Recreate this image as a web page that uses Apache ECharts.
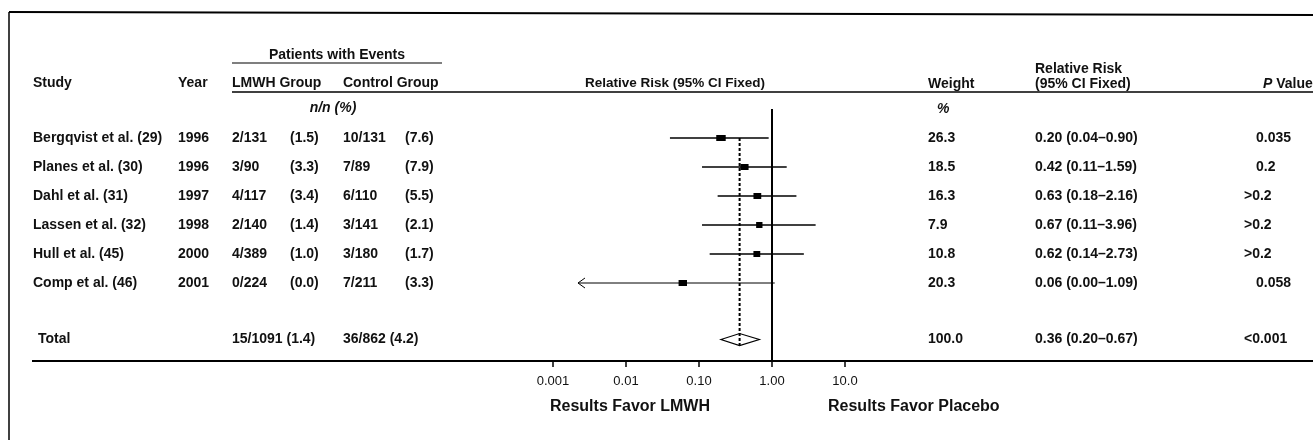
<!DOCTYPE html>
<html>
<head>
<meta charset="utf-8">
<script src="https://cdn.jsdelivr.net/npm/echarts@6/dist/echarts.min.js"></script>
<style>html,body{margin:0;padding:0;background:#fff}#c{width:1313px;height:440px}</style>
</head>
<body>
<div id="c"></div>
<script>
// ---------- DATA ----------
const studies = ['Bergqvist et al. (29)', 'Planes et al. (30)', 'Dahl et al. (31)', 'Lassen et al. (32)', 'Hull et al. (45)', 'Comp et al. (46)'];
const years = ['1996', '1996', '1997', '1998', '2000', '2001'];
const lmwhEvents = ['2/131', '3/90', '4/117', '2/140', '4/389', '0/224'];
const lmwhPct = ['(1.5)', '(3.3)', '(3.4)', '(1.4)', '(1.0)', '(0.0)'];
const controlEvents = ['10/131', '7/89', '6/110', '3/141', '3/180', '7/211'];
const controlPct = ['(7.6)', '(7.9)', '(5.5)', '(2.1)', '(1.7)', '(3.3)'];
const weights = [26.3, 18.5, 16.3, 7.9, 10.8, 20.3];
const rr = [0.20, 0.42, 0.63, 0.67, 0.62, 0.06];
const ciLow = [0.04, 0.11, 0.18, 0.11, 0.14, 0.00];
const ciHigh = [0.90, 1.59, 2.16, 3.96, 2.73, 1.09];
const pValues = ['0.035', '0.2', '>0.2', '>0.2', '>0.2', '0.058'];

const totalLabel = 'Total';
const totalLmwh = '15/1091 (1.4)';
const totalControl = '36/862 (4.2)';
const totalWeight = 100.0;
const totalRR = 0.36;
const totalLow = 0.20;
const totalHigh = 0.67;
const totalP = '<0.001';

const tickValues = [0.001, 0.01, 0.1, 1, 10];
const tickLabels = ['0.001', '0.01', '0.10', '1.00', '10.0'];

// ---------- LAYOUT ----------
const FONT = '"Liberation Sans", Arial, sans-serif';
const ROW_H = 29;
const GRID = { left: 553, width: 292, top: 109, height: 252 };
const Y_MIN = -1;
const Y_MAX = Y_MIN + GRID.height / ROW_H;
const ROW_TOTAL = 6.95;
const ARROW_MIN = 0.0022; // display clamp for a zero lower bound (drawn as arrow)
const COL = { study: 33, total: 38, year: 178, lmwhN: 232, lmwhPct: 290, ctrlN: 343, ctrlPct: 405, weight: 928, rr: 1035, p: 1256, pSym: 1244 };

const rrStr = (v, l, h) => v.toFixed(2) + ' (' + l.toFixed(2) + '\u2013' + h.toFixed(2) + ')';

function textEl(x, y, text, extra) {
  return {
    type: 'text', x: x, y: y, silent: true,
    style: Object.assign({
      text: text, fill: '#111', fontFamily: FONT, fontSize: 14, fontWeight: 'bold',
      textAlign: 'left', textVerticalAlign: 'middle', align: 'left', verticalAlign: 'middle'
    }, extra || {})
  };
}
function lineEl(x1, y1, x2, y2, w, dash) {
  return { type: 'line', silent: true, shape: { x1: x1, y1: y1, x2: x2, y2: y2 },
    style: { stroke: '#000', lineWidth: w, lineDash: dash || null } };
}
function pX(s) { return /^[<>]/.test(s) ? COL.pSym : COL.p; }

const chart = echarts.init(document.getElementById('c'), null, { renderer: 'canvas' });

const italicRich = { i: { fontStyle: 'italic', fontWeight: 'bold', fontSize: 14, fontFamily: FONT, fill: '#111' } };

const graphics = [
  lineEl(9, 12, 1313, 15, 2),
  lineEl(9, 12, 9, 440, 1.5),
  lineEl(232, 63, 442, 63, 1.2),
  lineEl(232, 92, 1313, 92, 1.5),
  lineEl(32, 361, 1313, 361, 2),
  textEl(337, 55, 'Patients with Events', { textAlign: 'center', align: 'center' }),
  textEl(COL.study, 83, 'Study'),
  textEl(COL.year, 83, 'Year'),
  textEl(COL.lmwhN, 83, 'LMWH Group'),
  textEl(COL.ctrlN, 83, 'Control Group'),
  textEl(675, 83, 'Relative Risk (95% CI Fixed)', { textAlign: 'center', align: 'center', fontSize: 13.5 }),
  textEl(COL.weight, 84, 'Weight'),
  textEl(COL.rr, 69, 'Relative Risk'),
  textEl(COL.rr, 84, '(95% CI Fixed)'),
  textEl(1263, 84, '{i|P} Value', { rich: italicRich }),
  textEl(333, 108, '{i|n/n (%)}', { textAlign: 'center', align: 'center', rich: italicRich }),
  textEl(937, 109, '{i|%}', { rich: italicRich }),
  textEl(630, 407, 'Results Favor LMWH', { textAlign: 'center', align: 'center', fontSize: 16 }),
  textEl(828, 407, 'Results Favor Placebo', { fontSize: 16 })
];

const option = {
  animation: false,
  backgroundColor: '#fff',
  grid: { left: GRID.left, width: GRID.width, top: GRID.top, height: GRID.height, containLabel: false },
  xAxis: {
    type: 'log', logBase: 10, min: tickValues[0], max: tickValues[tickValues.length - 1],
    position: 'bottom',
    axisLine: { show: true, onZero: false, lineStyle: { color: '#000', width: 2 } },
    axisTick: { show: true, inside: false, length: 6, lineStyle: { color: '#000', width: 1.5 } },
    minorTick: { show: false },
    splitLine: { show: false },
    axisLabel: {
      margin: 14, color: '#111', fontFamily: FONT, fontSize: 13,
      formatter: function (v) {
        for (let k = 0; k < tickValues.length; k++) {
          if (Math.abs(Math.log10(v) - Math.log10(tickValues[k])) < 1e-6) return tickLabels[k];
        }
        return '';
      }
    }
  },
  yAxis: { type: 'value', inverse: true, min: Y_MIN, max: Y_MAX, show: false, axisLine: { onZero: false } },
  graphic: { elements: graphics },
  series: [
    // table rows (text columns aligned to the row scale)
    {
      type: 'custom', clip: false, silent: true,
      data: studies.map(function (s, i) { return [1, i]; }),
      encode: { x: 0, y: 1 },
      renderItem: function (params, api) {
        const i = params.dataIndex;
        const y = api.coord([1, api.value(1)])[1];
        return {
          type: 'group',
          children: [
            textEl(COL.study, y, studies[i]),
            textEl(COL.year, y, years[i]),
            textEl(COL.lmwhN, y, lmwhEvents[i]),
            textEl(COL.lmwhPct, y, lmwhPct[i]),
            textEl(COL.ctrlN, y, controlEvents[i]),
            textEl(COL.ctrlPct, y, controlPct[i]),
            textEl(COL.weight, y, weights[i].toFixed(1)),
            textEl(COL.rr, y, rrStr(rr[i], ciLow[i], ciHigh[i])),
            textEl(pX(pValues[i]), y, pValues[i])
          ]
        };
      }
    },
    // total row text
    {
      type: 'custom', clip: false, silent: true,
      data: [[1, ROW_TOTAL]],
      encode: { x: 0, y: 1 },
      renderItem: function (params, api) {
        const y = api.coord([1, api.value(1)])[1];
        return {
          type: 'group',
          children: [
            textEl(COL.total, y, totalLabel),
            textEl(COL.lmwhN, y, totalLmwh),
            textEl(COL.ctrlN, y, totalControl),
            textEl(COL.weight, y, totalWeight.toFixed(1)),
            textEl(COL.rr, y, rrStr(totalRR, totalLow, totalHigh)),
            textEl(pX(totalP), y, totalP)
          ]
        };
      }
    },
    // study estimates with CIs
    {
      type: 'custom', clip: false, silent: true,
      data: rr.map(function (v, i) { return [v, i, ciLow[i], ciHigh[i], weights[i]]; }),
      encode: { x: 0, y: 1 },
      renderItem: function (params, api) {
        const r = api.value(1);
        const lo = api.value(2), hi = api.value(3), w = api.value(4);
        const loShown = lo > 0 ? lo : ARROW_MIN;
        const pc = api.coord([api.value(0), r]);
        const pl = api.coord([loShown, r]);
        const ph = api.coord([hi, r]);
        const bw = 5 + w * 0.17, bh = 6;
        const children = [
          { type: 'line', shape: { x1: pl[0], y1: pl[1], x2: ph[0], y2: ph[1] },
            style: { stroke: '#000', lineWidth: lo > 0 ? 1.5 : 1 } }
        ];
        if (!(lo > 0)) {
          children.push({ type: 'polyline', shape: { points: [[pl[0] + 7, pl[1] - 5], [pl[0], pl[1]], [pl[0] + 7, pl[1] + 5]] },
            style: { stroke: '#000', lineWidth: 1, fill: null } });
        }
        children.push({ type: 'rect', shape: { x: pc[0] - bw / 2, y: pc[1] - bh / 2, width: bw, height: bh },
          style: { fill: '#000' } });
        return { type: 'group', children: children };
      },
      markLine: {
        silent: true, symbol: ['none', 'none'], label: { show: false },
        lineStyle: { color: '#000', width: 2, type: 'solid' },
        data: [{ xAxis: 1 }]
      }
    },
    // pooled estimate: dashed line + diamond
    {
      type: 'custom', clip: false, silent: true,
      data: [[totalRR, ROW_TOTAL, totalLow, totalHigh]],
      encode: { x: 0, y: 1 },
      renderItem: function (params, api) {
        const r = api.value(1);
        const pc = api.coord([api.value(0), r]);
        const pl = api.coord([api.value(2), r]);
        const ph = api.coord([api.value(3), r]);
        const top = api.coord([api.value(0), 0]);
        const h = 6;
        return {
          type: 'group',
          children: [
            { type: 'line', shape: { x1: top[0], y1: top[1], x2: pc[0], y2: pc[1] + h },
              style: { stroke: '#000', lineWidth: 2, lineDash: [3, 2] } },
            { type: 'polygon', shape: { points: [[pl[0], pl[1]], [pc[0], pc[1] - h], [ph[0], ph[1]], [pc[0], pc[1] + h]] },
              style: { stroke: '#000', lineWidth: 1.2, fill: 'rgba(255,255,255,0)' } }
          ]
        };
      }
    }
  ]
};
chart.setOption(option);
</script>
</body>
</html>
